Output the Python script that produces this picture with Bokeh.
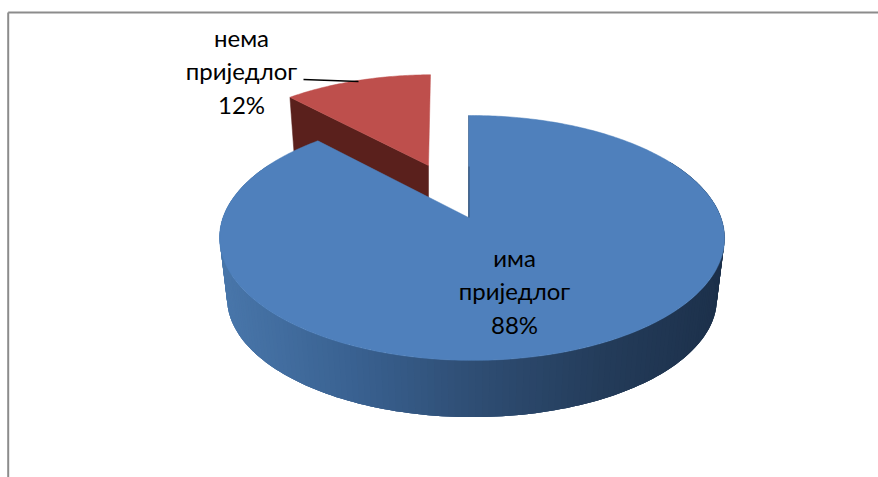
import numpy as np
from bokeh.plotting import figure
from bokeh.models import Range1d
from bokeh.core.properties import value
from bokeh.embed import file_html
from bokeh.resources import INLINE

categories = ["има\nприједлог", "нема\nприједлог"]
shares = [88, 12]

# styles and geometry of the projected pie (page pixels)
FONT = "Lato"
TOP_BLUE, TOP_RED, WALL_RED = "#4f80bc", "#be4f4c", "#5a201c"
WALL_STOPS_X = [219, 350, 470, 600, 724]
WALL_STOPS_RGB = [(74, 120, 172), (58, 98, 146), (47, 78, 116), (36, 60, 90), (28, 48, 74)]
A, B, K, M = 248.9, 119.0, 0.167, -0.0139
DEPTH_SCALE, DEPTH = 0.97, 61.0
BLUE_APEX = (468, 217)
RED_APEX = (428, 165)
RED_SCALE_X, RED_SCALE_Y, RED_SKEW = 0.93, 0.89, 0.022

fractions = np.array(shares) / sum(shares)
end_blue = 2 * np.pi * fractions[0]


def project(theta):
    X, Y = np.sin(theta), np.cos(theta)
    w = 1 + K * Y + M * X
    return A * X / w, B * Y / w


p = figure(width=878, height=477, x_range=Range1d(0, 878), y_range=Range1d(477, 0),
           output_backend="svg", toolbar_location=None, min_border=0,
           background_fill_color="white")
p.axis.visible = False
p.grid.visible = False
p.outline_line_color = None

# chart frame
p.line([7.7, 7.7], [477, 12], line_color="#8c8c8c", line_width=2)
p.line([7.7, 878], [12, 12], line_color="#8c8c8c", line_width=2)

# exploded red slice: wall, then top
t_red = np.linspace(end_blue, 2 * np.pi, 60)
ur, vr = project(t_red)
ur, vr = RED_SCALE_X * ur, RED_SCALE_Y * vr
rx = RED_APEX[0] + ur + RED_SKEW * vr
ry = RED_APEX[1] - vr
wall_u = np.array([ur[0], 0.0])
wall_v = np.array([vr[0], 0.0])
wx_top = RED_APEX[0] + wall_u + RED_SKEW * wall_v
wy_top = RED_APEX[1] - wall_v
wx_bot = RED_APEX[0] + DEPTH_SCALE * (wall_u + RED_SKEW * wall_v)
wy_bot = RED_APEX[1] - DEPTH_SCALE * wall_v + DEPTH * RED_SCALE_Y
p.patch(list(wx_top) + list(wx_bot[::-1]), list(wy_top) + list(wy_bot[::-1]),
        fill_color=WALL_RED, line_color=WALL_RED, line_width=0.5)
p.patch([RED_APEX[0]] + list(rx), [RED_APEX[1]] + list(ry),
        fill_color=TOP_RED, line_color=TOP_RED, line_width=0.5)

# blue outer wall as shaded strips, each overlapping the next to hide seams
t_wall = np.linspace(np.radians(300), np.radians(60), 181)
u, v = project(t_wall)
tx, ty = BLUE_APEX[0] + u, BLUE_APEX[1] - v
bx, by = BLUE_APEX[0] + DEPTH_SCALE * u, BLUE_APEX[1] - DEPTH_SCALE * v + DEPTH
xs, ys, colors = [], [], []
for i in range(len(t_wall) - 1):
    j = min(i + 3, len(t_wall) - 1)
    xs.append(list(tx[i:j + 1]) + list(bx[i:j + 1][::-1]))
    ys.append(list(ty[i:j + 1]) + list(by[i:j + 1][::-1]))
    xm = bx[i]
    rgb = [int(np.interp(xm, WALL_STOPS_X, [s[c] for s in WALL_STOPS_RGB])) for c in range(3)]
    colors.append("#%02x%02x%02x" % tuple(rgb))
p.patches(xs, ys, fill_color=colors, line_color=None)

# blue top
t_blue = np.linspace(0, end_blue, 400)
u, v = project(t_blue)
p.patch([BLUE_APEX[0]] + list(BLUE_APEX[0] + u), [BLUE_APEX[1]] + list(BLUE_APEX[1] - v),
        fill_color=TOP_BLUE, line_color=TOP_BLUE, line_width=0.5)

# dark sliver along the cut edge of the blue slice
far_y = BLUE_APEX[1] - project(0.0)[1]
p.line([BLUE_APEX[0], BLUE_APEX[0]], [far_y, BLUE_APEX[1]], line_color="#24405f", line_width=1, line_alpha=0.35)
p.line([BLUE_APEX[0] + 0.5, BLUE_APEX[0] + 0.5], [(far_y + BLUE_APEX[1]) / 2, BLUE_APEX[1]],
       line_color="#1f3550", line_width=1, line_alpha=0.6)

# leader line of the red label
p.line([303, 358], [79, 81], line_color="black", line_width=1.6)

# labels
labels = [f"{c}\n{s}%" for c, s in zip(categories, shares)]
lab_x = [514, 241]
lab_y = [256.5, 36.5]
LINE = 33.5
tx_, ty_, tt_ = [], [], []
for text, x0, y0 in zip(labels, lab_x, lab_y):
    for j, line in enumerate(text.split("\n")):
        tx_.append(x0)
        ty_.append(y0 + j * LINE)
        tt_.append(line)
p.text(x=tx_, y=ty_, text=tt_, text_align="center", text_baseline="middle",
       text_font=value(FONT), text_font_size="24px", text_color="black")

open("out.html", "w").write(file_html(p, INLINE))
